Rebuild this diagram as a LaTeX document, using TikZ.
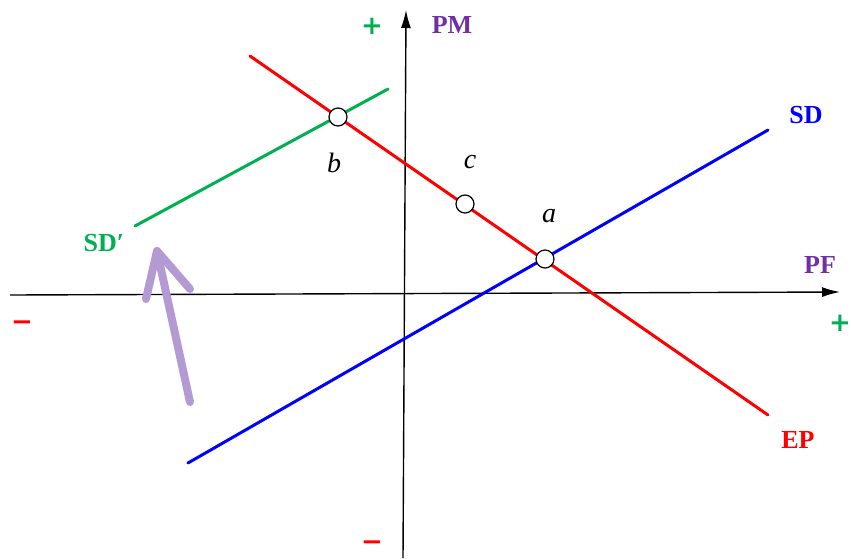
\documentclass[tikz,border=0pt]{standalone}
\usepackage{fontspec}
\setmainfont{Liberation Serif}
\newfontfamily\symfont{DejaVu Sans}
\usetikzlibrary{arrows.meta}
\definecolor{lgreen}{RGB}{0,176,80}
\definecolor{lpurple}{RGB}{112,48,160}
\definecolor{arrowpurple}{RGB}{180,154,210}
\tikzset{
  axis/.style={line width=1.4pt, black},
  curve/.style={line width=3pt, line cap=round},
  dotnode/.style={circle, draw=black, fill=white, line width=1.2pt, minimum size=18pt, inner sep=0pt},
  lbl/.style={font=\fontsize{26}{28}\selectfont\bfseries, inner sep=0pt},
  pt/.style={font=\fontsize{28}{30}\selectfont\itshape, inner sep=0pt},
  sym/.style={font=\fontsize{26}{28}\selectfont\symfont\bfseries, inner sep=0pt}
}
\begin{document}
\begin{tikzpicture}[x=1pt,y=-1pt]
\useasboundingbox (0,0) rectangle (851,558);
% axes
\coordinate (xl) at (10,295);
\coordinate (xr) at (840,292);
\coordinate (yb) at (403,558);
\coordinate (yt) at (406,10);
\draw[axis, -{Latex[length=18pt,width=10pt]}] (xl) -- (xr);
\draw[axis, -{Latex[length=18pt,width=10pt]}] (yb) -- (yt);
% lines
\coordinate (ep1) at (250,56);
\coordinate (ep2) at (768,415);
\coordinate (sdp1) at (135,226);
\coordinate (sdp2) at (388,89);
\coordinate (sd1) at (188,463);
\coordinate (sd2) at (768,130);
\draw[curve, lgreen] (sdp1) -- (sdp2);
\draw[curve, blue] (sd1) -- (sd2);
\draw[curve, red] (ep1) -- (ep2);
% points
\node[dotnode] (b) at (338,117) {};
\node[dotnode] (c) at (465,204) {};
\node[dotnode] (a) at (545,259) {};
\node[pt] (lb) at (334,163) {b};
\node[pt] (lc) at (470,162) {c};
\node[pt] (la) at (549,216) {a};
% labels
\node[lbl, lpurple] (pm) at (452,25) {PM};
\node[lbl, lpurple] (pf) at (820,265) {PF};
\node[lbl, blue] (sdl) at (806,115) {SD};
\node[lbl, lgreen] (sdpl) at (104,243) {SD′};
\node[lbl, red] (epl) at (798,440) {EP};
\node[sym, lgreen] (plus1) at (372,26) {+};
\node[sym, lgreen] (plus2) at (840,323) {+};
\node[sym, red] (minus1) at (22,326) {−};
\node[sym, red] (minus2) at (372,546) {−};
% purple arrow
\coordinate (tip) at (157,251);
\coordinate (armL) at (146,299);
\coordinate (armR) at (190,289);
\coordinate (tail) at (190,402);
\draw[arrowpurple, line width=8pt, line cap=round, line join=round] (armL) -- (tip) -- (armR);
\draw[arrowpurple, line width=8pt, line cap=round] (tip) -- (tail);
\end{tikzpicture}
\end{document}
